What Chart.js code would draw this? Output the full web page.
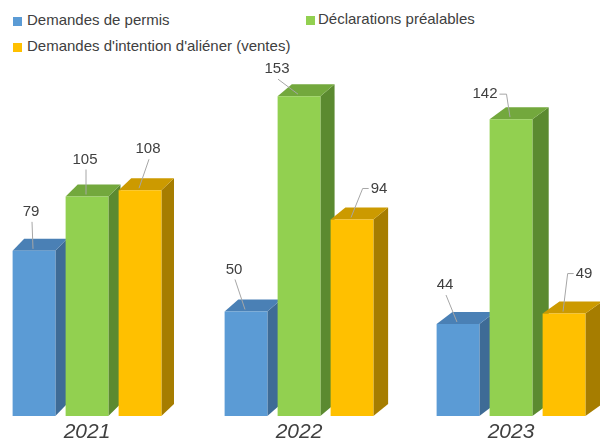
<!DOCTYPE html>
<html><head><meta charset="utf-8">
<script src="https://cdn.jsdelivr.net/npm/chart.js@4.4.1/dist/chart.umd.min.js"></script>
<style>
html,body{margin:0;padding:0;width:600px;height:443px;overflow:hidden;background:#fff;}
#wrap{position:absolute;left:-19px;top:0;width:636px;height:443px;}
.leg{position:absolute;font:15px "Liberation Sans",Arial,sans-serif;color:#404040;white-space:nowrap;line-height:18px;}
.leg i{display:inline-block;width:9px;height:9px;vertical-align:-1px;}
</style></head><body>
<div id="legend"></div>
<div id="wrap"><canvas id="c" width="636" height="443"></canvas></div>
<script>
// ---- data ----
const categories = ['2021', '2022', '2023'];
const seriesNames = ['Demandes de permis', 'Déclarations préalables', "Demandes d'intention d'aliéner (ventes)"];
const demandesPermis = [79, 50, 44];
const declarationsPrealables = [105, 153, 142];
const demandesIntention = [108, 94, 49];

// ---- styles ----
const frontColors = ['#5B9BD5', '#92D050', '#FFC000'];
const topColors   = ['#4A80B5', '#73A83D', '#CC9A00'];
const sideColors  = ['#3E6B96', '#5B8A30', '#A67D00'];
// label nudges relative to bar front-top centre: [dx, dy, leader side]
const labelNudges = [
  [[-3,-39,'b'], [-12,-42,'b'], [-13,-39,'b']],
  [[-2,-37,'b'], [-22,-27,'b'], [-26,-25,'r']],
  [[ 8,-41,'b'], [ 27,-31,'l'], [ 20,-40,'l']]
];
const CANVAS_SHIFT = -19;

// legend (HTML text)
const legendPos = [[13, 11, 5], [306, 10, 3], [13, 37, 5]];
const legendEl = document.getElementById('legend');
seriesNames.forEach((n, i) => {
  const d = document.createElement('div');
  d.className = 'leg';
  d.style.left = legendPos[i][0] + 'px';
  d.style.top = legendPos[i][1] + 'px';
  d.innerHTML = '<i style="background:' + frontColors[i] + ';margin-right:' + legendPos[i][2] + 'px"></i>';
  d.appendChild(document.createTextNode(n));
  legendEl.appendChild(d);
});

function depthX(R) { return 11 + 6 * (R + CANVAS_SHIFT) / 600; }
const DEPTH_Y = 12;

const bar3d = {
  id: 'bar3d',
  beforeDatasetsDraw(chart) {
    const ctx = chart.ctx;
    ctx.save();
    chart.data.datasets.forEach((ds, i) => {
      const meta = chart.getDatasetMeta(i);
      meta.data.forEach(el => {
        const p = el.getProps(['x', 'y', 'base', 'width'], true);
        const L = p.x - p.width / 2, R = p.x + p.width / 2;
        const dx = depthX(R), dy = DEPTH_Y;
        // side
        ctx.fillStyle = sideColors[i];
        ctx.beginPath();
        ctx.moveTo(R, p.y); ctx.lineTo(R + dx, p.y - dy);
        ctx.lineTo(R + dx, p.base - dy); ctx.lineTo(R, p.base);
        ctx.closePath(); ctx.fill();
        // top
        ctx.fillStyle = topColors[i];
        ctx.beginPath();
        ctx.moveTo(L, p.y); ctx.lineTo(R, p.y);
        ctx.lineTo(R + dx, p.y - dy); ctx.lineTo(L + dx, p.y - dy);
        ctx.closePath(); ctx.fill();
      });
    });
    ctx.restore();
  },
  afterDatasetsDraw(chart) {
    const ctx = chart.ctx;
    ctx.save();
    ctx.font = '15px "Liberation Sans", Arial, sans-serif';
    ctx.textAlign = 'center';
    ctx.textBaseline = 'middle';
    chart.data.datasets.forEach((ds, i) => {
      const meta = chart.getDatasetMeta(i);
      meta.data.forEach((el, j) => {
        const p = el.getProps(['x', 'y'], true);
        const nz = labelNudges[i][j];
        const lx = p.x + nz[0], ly = p.y + nz[1];
        const txt = String(ds.data[j]);
        const w = ctx.measureText(txt).width;
        const ax = p.x - 1, ay = p.y - 2;
        ctx.strokeStyle = '#A6A6A6';
        ctx.lineWidth = 1;
        ctx.beginPath();
        if (nz[2] === 'b') {
          ctx.moveTo(lx + 1, ly + 10);
          ctx.lineTo(ax, ay);
        } else if (nz[2] === 'r') {
          ctx.moveTo(lx + w / 2 + 2, ly);
          ctx.lineTo(lx + w / 2 + 9, ly);
          ctx.lineTo(ax, ay);
        } else {
          ctx.moveTo(lx - w / 2 - 2, ly);
          ctx.lineTo(lx - w / 2 - 8, ly);
          ctx.lineTo(ax, ay);
        }
        ctx.stroke();
        ctx.fillStyle = '#404040';
        ctx.fillText(txt, lx, ly);
      });
    });
    ctx.restore();
  }
};

const seriesValues = [demandesPermis, declarationsPrealables, demandesIntention];
new Chart(document.getElementById('c'), {
  type: 'bar',
  data: {
    labels: categories,
    datasets: seriesValues.map((v, i) => ({
      label: seriesNames[i],
      data: v,
      backgroundColor: frontColors[i],
      borderWidth: 0,
      categoryPercentage: 0.75,
      barPercentage: 0.807
    }))
  },
  options: {
    responsive: false,
    animation: false,
    devicePixelRatio: 1,
    layout: { padding: 0 },
    plugins: { legend: { display: false }, tooltip: { enabled: false } },
    scales: {
      y: { display: false, min: 0, max: 199 },
      x: {
        grid: { display: false, drawTicks: false },
        border: { display: false },
        ticks: { color: '#404040', padding: 4, font: { family: '"Liberation Sans", Arial, sans-serif', size: 21, style: 'italic' } },
        afterFit(scale) { scale.height = 27; }
      }
    }
  },
  plugins: [bar3d]
});
</script>
</body></html>
